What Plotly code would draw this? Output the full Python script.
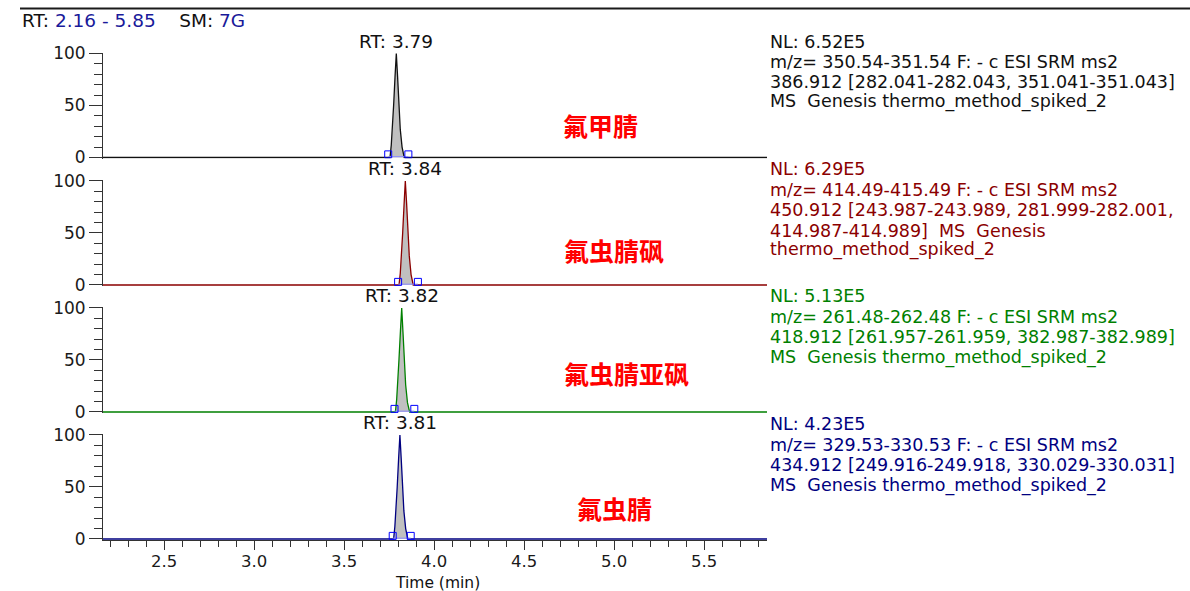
import plotly.graph_objects as go

# ---------------- data ----------------
RT_RANGE = [2.16, 5.85]
apex_rt = [3.79, 3.84, 3.82, 3.81]
apex_labels = ["RT: 3.79", "RT: 3.84", "RT: 3.82", "RT: 3.81"]

peak1_t = [3.755, 3.762, 3.768, 3.775, 3.783, 3.790, 3.797, 3.805, 3.812, 3.822, 3.834]
peak1_i = [0, 12, 26, 50, 78, 100, 78, 50, 27, 10, 0]
peak2_t = [3.805, 3.812, 3.818, 3.825, 3.833, 3.840, 3.847, 3.855, 3.862, 3.872, 3.884]
peak2_i = [0, 11, 25, 49, 77, 100, 79, 51, 28, 10, 0]
peak3_t = [3.785, 3.792, 3.798, 3.805, 3.813, 3.820, 3.827, 3.835, 3.842, 3.852, 3.864]
peak3_i = [0, 12, 27, 51, 78, 100, 77, 49, 26, 9, 0]
peak4_t = [3.775, 3.782, 3.788, 3.795, 3.803, 3.810, 3.817, 3.825, 3.832, 3.842, 3.854]
peak4_i = [0, 12, 26, 50, 78, 100, 78, 50, 27, 10, 0]

bound1 = [3.745, 3.857]
bound2 = [3.800, 3.910]
bound3 = [3.780, 3.890]
bound4 = [3.770, 3.870]

compound_names = ["氟甲腈", "氟虫腈砜", "氟虫腈亚砜", "氟虫腈"]

info1 = ["NL: 6.52E5",
         "m/z= 350.54-351.54 F: - c ESI SRM ms2",
         "386.912 [282.041-282.043, 351.041-351.043]",
         "MS\u00a0 Genesis thermo_method_spiked_2"]
info2 = ["NL: 6.29E5",
         "m/z= 414.49-415.49 F: - c ESI SRM ms2",
         "450.912 [243.987-243.989, 281.999-282.001,",
         "414.987-414.989]\u00a0 MS\u00a0 Genesis",
         "thermo_method_spiked_2"]
info3 = ["NL: 5.13E5",
         "m/z= 261.48-262.48 F: - c ESI SRM ms2",
         "418.912 [261.957-261.959, 382.987-382.989]",
         "MS\u00a0 Genesis thermo_method_spiked_2"]
info4 = ["NL: 4.23E5",
         "m/z= 329.53-330.53 F: - c ESI SRM ms2",
         "434.912 [249.916-249.918, 330.029-330.031]",
         "MS\u00a0 Genesis thermo_method_spiked_2"]

x_title = "Time (min)"

# ---------------- styling / layout ----------------
peaks_t = [peak1_t, peak2_t, peak3_t, peak4_t]
peaks_i = [peak1_i, peak2_i, peak3_i, peak4_i]
bounds = [bound1, bound2, bound3, bound4]
infos = [info1, info2, info3, info4]
colors = ["#111111", "#8b0000", "#008000", "#000080"]

W, H = 1190, 591
L_PX, R_PX = 103, 767
TOP_PX, BOT_PX = 48, 543
FONT = "DejaVu Sans"

def px_x(p):
    return (p - L_PX) / (R_PX - L_PX)

def px_y(p):
    return (BOT_PX - p) / (BOT_PX - TOP_PX)

YR = [-1.0, 100.6]
zero_px = [157.5, 285.0, 412.0, 539.0]
panel_h = 104.0

fig = go.Figure()
layout_axes = {}
for k in range(4):
    yname = "y" if k == 0 else f"y{k+1}"
    lname = "yaxis" if k == 0 else f"yaxis{k+1}"
    upx = panel_h / 100.0
    bottom = zero_px[k] - YR[0] * upx
    top = zero_px[k] - YR[1] * upx
    layout_axes[lname] = dict(
        domain=[px_y(bottom), px_y(top)], range=YR, anchor="x",
        tick0=0, dtick=50, ticks="outside", ticklen=13, tickwidth=1,
        tickcolor="#333", showline=True, linecolor="#333", linewidth=1,
        showgrid=False, zeroline=False, fixedrange=True,
        tickfont=dict(family=FONT, size=17, color="#1a1a1a"),
        minor=dict(dtick=10, tick0=0, ticks="outside", ticklen=8,
                   tickcolor="#333", showgrid=False),
    )
    pt, pi = peaks_t[k], peaks_i[k]
    fig.add_trace(go.Scatter(x=pt, y=pi, xaxis="x", yaxis=yname, mode="lines",
                             fill="tozeroy", fillcolor="#c0c0c0",
                             line=dict(width=0, color="#c0c0c0"), hoverinfo="skip"))
    fig.add_trace(go.Scatter(x=[RT_RANGE[0]] + pt + [RT_RANGE[1]],
                             y=[0] + pi + [0], xaxis="x", yaxis=yname,
                             mode="lines", line=dict(color=colors[k], width=1.3)))
    fig.add_trace(go.Scatter(x=bounds[k], y=[0.8, 0.8], xaxis="x", yaxis=yname,
                             mode="lines", line=dict(color="#8a8aff", width=1)))
    fig.add_trace(go.Scatter(x=bounds[k], y=[3, 3], xaxis="x", yaxis=yname,
                             mode="markers",
                             marker=dict(symbol="square-open", size=7, color="#0000ff",
                                         line=dict(width=1, color="#0000ff"))))

annotations = []
for k in range(4):
    yname = "y" if k == 0 else f"y{k+1}"
    annotations.append(dict(x=apex_rt[k], y=100, xref="x", yref=yname, yshift=12,
                            text=apex_labels[k], showarrow=False, xanchor="center",
                            yanchor="middle",
                            font=dict(family=FONT, size=18.5, color="#111")))

info_y = [[42, 62, 82, 101], [169, 190, 210, 231, 250],
          [296, 317, 337, 357], [424, 445, 465, 485]]
for k in range(4):
    for line, yp in zip(infos[k], info_y[k]):
        annotations.append(dict(x=px_x(768), y=px_y(yp), xref="paper", yref="paper",
                                text=line, showarrow=False, xanchor="left",
                                yanchor="middle",
                                font=dict(family=FONT, size=17.5, color=colors[k])))

name_pos = [(561, 125), (562, 250), (562, 373), (575, 508)]
for name, (xp, yp) in zip(compound_names, name_pos):
    annotations.append(dict(x=px_x(xp), y=px_y(yp), xref="paper", yref="paper",
                            text=f"<b>{name}</b>", showarrow=False, xanchor="left",
                            yanchor="middle",
                            font=dict(family="Noto Sans CJK SC", size=25, color="#ff0000")))

annotations.append(dict(
    x=px_x(20), y=px_y(20), xref="paper", yref="paper", showarrow=False,
    xanchor="left", yanchor="middle",
    text="RT: <span style='color:#1a1a9a'>2.16 - 5.85</span>\u00a0\u00a0\u00a0 SM: <span style='color:#1a1a9a'>7G</span>",
    font=dict(family=FONT, size=18.5, color="#111")))

annotations.append(dict(x=px_x(437), y=px_y(582.5), xref="paper", yref="paper",
                        text=x_title, showarrow=False, xanchor="center", yanchor="middle",
                        borderpad=0,
                        font=dict(family=FONT, size=15.5, color="#111")))

fig.update_layout(
    width=W, height=H,
    margin=dict(l=L_PX, r=W - R_PX, t=TOP_PX, b=H - BOT_PX, pad=0),
    paper_bgcolor="white", plot_bgcolor="white", showlegend=False,
    xaxis=dict(range=RT_RANGE, anchor="y4", domain=[0, 1], tick0=0, dtick=0.5,
               tickformat=".1f", ticks="outside", ticklen=9, tickwidth=1,
               tickcolor="#333", showline=True, linecolor="#333", linewidth=1,
               showgrid=False, zeroline=False, fixedrange=True,
               ticklabelstandoff=-3,
               tickfont=dict(family=FONT, size=16.5, color="#1a1a1a"),
               minor=dict(dtick=0.1, tick0=0, ticks="outside", ticklen=6,
                          tickcolor="#333", showgrid=False)),
    annotations=annotations,
    shapes=[dict(type="line", xref="paper", yref="paper",
                 x0=px_x(20), x1=px_x(1190), y0=px_y(8.5), y1=px_y(8.5),
                 line=dict(color="#1a1a1a", width=2))],
    **layout_axes,
)

fig.write_html("out.html", config={"displayModeBar": False},
               post_script="document.body.style.margin='0';document.body.style.overflow='hidden';")
